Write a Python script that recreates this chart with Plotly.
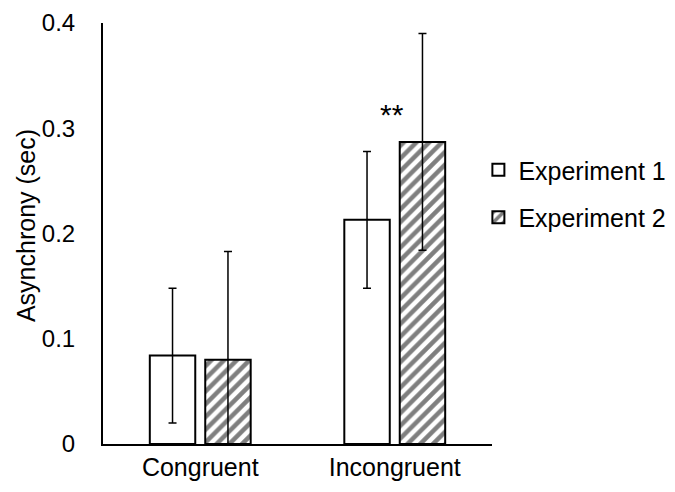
import plotly.graph_objects as go

# values
conditions = ["Congruent", "Incongruent"]
exp1_mean = [0.084, 0.213]
exp1_err = [0.064, 0.065]
exp2_mean = [0.080, 0.287]
exp2_err = [0.103, 0.103]
y_ticks = [0, 0.1, 0.2, 0.3, 0.4]
y_tick_text = ["0", "0.1", "0.2", "0.3", "0.4"]

font_family = "Liberation Sans, Arial, sans-serif"

fig = go.Figure()

fig.add_trace(go.Bar(
    name="Experiment 1",
    x=conditions,
    y=exp1_mean,
    legendgroup="e1",
    marker=dict(color="white", line=dict(color="black", width=2)),
    error_y=dict(type="data", array=exp1_err, color="black", thickness=1.5, width=4),
))

fig.add_trace(go.Bar(
    name="Experiment 2",
    x=conditions,
    y=exp2_mean,
    legendgroup="e2",
    marker=dict(
        color="white",
        line=dict(color="black", width=2),
        pattern=dict(shape="/", fgcolor="black", bgcolor="white", size=9, solidity=0.5),
    ),
    error_y=dict(type="data", array=exp2_err, color="black", thickness=1.5, width=4),
))

# significance marker above the incongruent bars
fig.add_annotation(
    x="Incongruent", y=0.313, text="**", showarrow=False, xshift=-3,
    font=dict(size=30, color="black", family=font_family),
)

# y axis title as an annotation so it can sit close to the left edge
fig.add_annotation(
    xref="paper", yref="paper", x=-0.198, y=0.52,
    xanchor="center", yanchor="middle", textangle=-90,
    text="Asynchrony (sec)", showarrow=False,
    font=dict(size=25, color="black", family=font_family),
)

# page body has an 8px margin, so the margins are shifted by that much
fig.update_layout(
    width=675,
    height=492,
    barmode="group",
    bargap=0.43,
    bargroupgap=0.18,
    plot_bgcolor="white",
    paper_bgcolor="white",
    margin=dict(l=95, r=191, t=15, b=56),
    font=dict(family=font_family, size=24, color="black"),
    legend=dict(
        x=0.965, xanchor="left", y=0.595, yanchor="middle",
        traceorder="grouped", tracegroupgap=12,
        font=dict(size=25), itemwidth=30,
    ),
)

fig.update_xaxes(
    showline=True, linecolor="black", linewidth=2, automargin=False,
    showgrid=False, ticks="", tickfont=dict(size=25),
)
fig.update_yaxes(
    range=[0, 0.4], tickvals=y_ticks, ticktext=y_tick_text,
    showline=True, linecolor="black", linewidth=2, automargin=False,
    showgrid=False, zeroline=False, ticks="", ticklabelstandoff=21,
    ticklabeloverflow="allow", tickfont=dict(size=24),
)

fig.write_html("out.html")
